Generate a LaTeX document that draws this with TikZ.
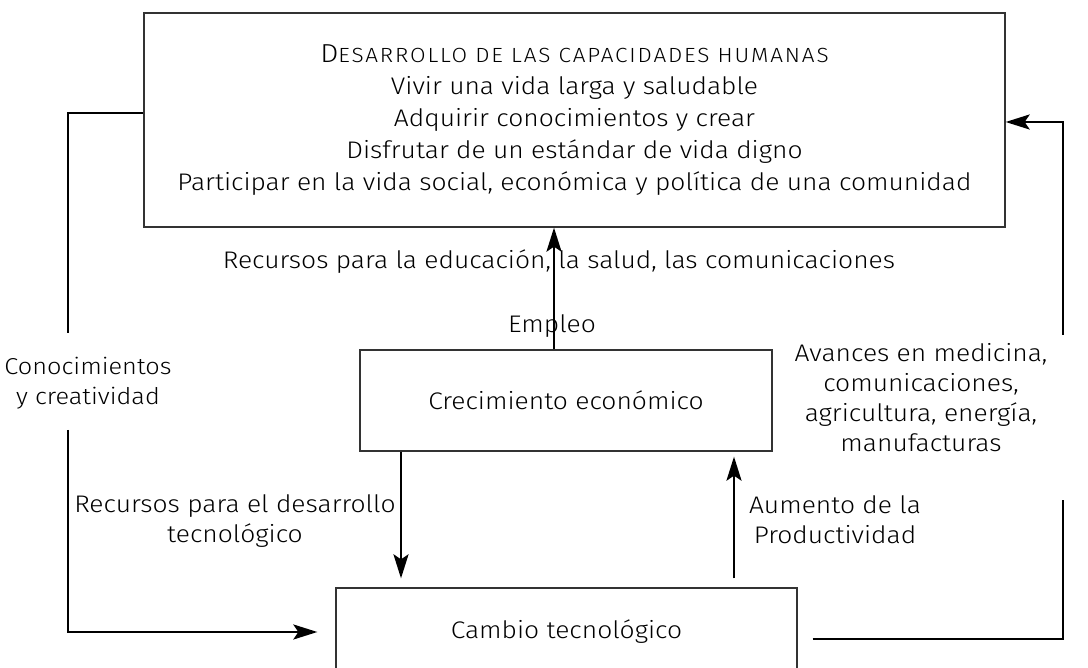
\documentclass[tikz,border=0pt]{standalone}
\usepackage{fontspec}
\setmainfont{Fira Sans Light}[FakeStretch=1.1]
\newfontfamily\scfont{Fira Sans Light}[FakeStretch=1.1, LetterSpace=9]
\usetikzlibrary{arrows.meta}
\begin{document}
\begin{tikzpicture}[x=1pt,y=-1pt,
  box/.style={draw=black!80, line width=1.3pt, inner sep=0pt, align=center,
    font=\fontsize{24}{32}\selectfont},
  lbl/.style={align=center, inner sep=0pt, font=\fontsize{24}{30}\selectfont},
  con/.style={line width=2.6pt, black},
  arr/.style={con, -{Stealth[length=24pt,width=15pt,inset=5pt]}}]
\useasboundingbox (0,0) rectangle (1088,668);
% boxes
\node[box, minimum width=861pt, minimum height=214pt] (top) at (574.5,120)
  {{\fontsize{26}{32}\selectfont D}{\scfont\fontsize{20.5}{32}\selectfont ESARROLLO DE LAS CAPACIDADES HUMANAS}\\
   Vivir una vida larga y saludable\\
   Adquirir conocimientos y crear\\
   Disfrutar de un estándar de vida digno\\
   Participar en la vida social, económica y política de una comunidad};
\node[box, minimum width=412pt, minimum height=101pt] (mid) at (566,400.5)
  {Crecimiento económico};
\node[box, minimum width=461pt, minimum height=88pt] (bot) at (566.5,632)
  {Cambio tecnológico};
% labels
\node[lbl] (rec1) at (559,262) {Recursos para la educación, la salud, las comunicaciones};
\node[lbl] (emp) at (552,326) {Empleo};
\node[lbl, font=\fontsize{23}{30}\selectfont] (know) at (88,383) {Conocimientos\\y creatividad};
\node[lbl] (adv) at (921,398) {Avances en medicina,\\comunicaciones,\\agricultura, energía,\\manufacturas};
\node[lbl] (rec2) at (235,521) {Recursos para el desarrollo\\tecnológico};
\node[lbl] (aum) at (835,520) {Aumento de la\\Productividad};
% free ends of the broken loops
\coordinate (l1) at (68,333);
\coordinate (l2) at (68,430);
\coordinate (r1) at (1063,500);
\coordinate (r2) at (1063,335);
% vertical arrows
\draw[arr] ([xshift=-12pt]mid.north) -- ([xshift=-12pt]mid.north |- top.south);
\draw[arr, shorten >=9pt] ([xshift=-165pt]mid.south) -- ([xshift=-165pt]mid.south |- bot.north);
\draw[arr, shorten <=9pt, shorten >=5pt] ([xshift=168pt]mid.south |- bot.north) -- ([xshift=168pt]mid.south);
% left loop
\draw[con] ([yshift=7pt]top.west) -| (l1);
\draw[arr, shorten >=18pt] (l2) |- (bot.west);
% right loop
\draw[con, shorten <=15pt] ([yshift=-7pt]bot.east) -| (r1);
\draw[arr] (r2) |- ([yshift=-2pt]top.east);
\end{tikzpicture}
\end{document}
